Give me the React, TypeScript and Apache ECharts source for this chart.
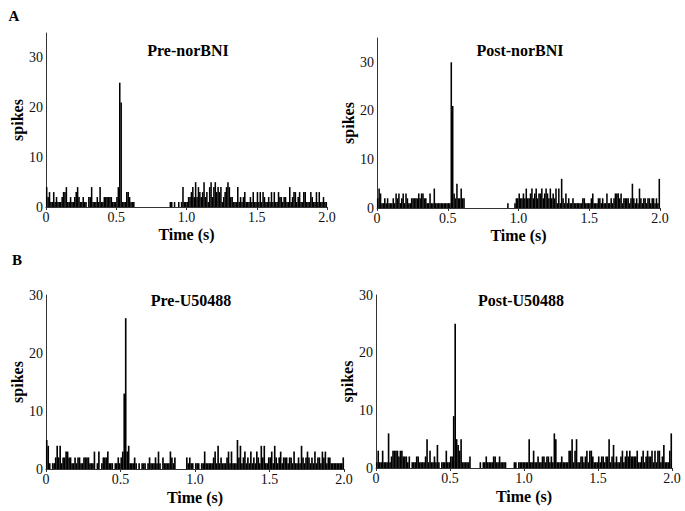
import React, { useEffect, useRef } from 'react';
import * as echarts from 'echarts';

// 10 ms bins over 0–2 s
const BIN_WIDTH_S = 0.01;
const binStarts: number[] = Array.from({ length: 200 }, (_, i) => +(i * BIN_WIDTH_S).toFixed(2));

const titles = ['Pre-norBNI', 'Post-norBNI', 'Pre-U50488', 'Post-U50488'];
const panelLetters = ['A', 'B'];
const xTicks = [0, 0.5, 1.0, 1.5, 2.0];

const preNorBNI = [
  4,2,3,1,1,3,1,2,1,1, 1,2,3,3,4,1,1,2,1,1, 2,3,4,2,1,1,2,1,1,0, 2,2,4,1,1,1,2,1,4,1,
  1,2,2,2,2,2,2,1,1,1, 2,4,25,21,1,1,1,3,3,2, 1,1,1,0,0,0,0,0,0,0, 0,0,0,0,0,0,0,0,0,0,
  0,0,0,0,0,0,0,0,1,1, 0,1,0,0,1,0,1,4,1,1, 1,2,2,3,4,2,5,2,4,3, 2,3,5,2,3,1,4,5,2,4,
  5,3,4,3,4,1,2,3,4,5, 4,2,2,1,1,1,4,1,2,1, 2,3,1,1,1,2,1,3,1,1, 3,1,3,1,3,2,1,1,2,1,
  3,1,3,1,1,3,2,2,1,2, 2,1,1,4,1,2,3,3,1,2, 3,1,1,3,3,1,1,1,3,2, 1,1,3,1,3,1,1,2,1,1,
];

const postNorBNI = [
  2,4,3,1,1,2,1,2,1,1, 1,2,1,3,2,3,1,2,3,1, 3,2,1,1,2,2,2,2,2,3, 2,3,3,2,2,1,1,3,1,1,
  4,1,1,1,1,1,1,1,1,1, 1,1,30,21,3,2,5,2,2,4, 2,2,0,0,0,0,0,0,0,0, 0,0,0,0,0,0,0,0,0,0,
  0,0,0,0,0,0,0,0,0,0, 0,0,1,0,0,0,0,1,2,2, 3,2,2,3,2,4,2,2,3,4, 2,3,4,2,3,3,4,2,3,4,
  3,2,4,2,3,2,4,1,4,1, 6,2,1,3,1,2,1,1,2,1, 1,1,1,1,1,2,2,1,1,1, 1,2,3,1,1,1,2,2,1,2,
  1,1,3,1,1,2,1,2,3,3, 3,2,3,1,2,2,2,2,1,2, 5,2,1,2,1,4,2,1,2,2, 1,2,2,1,2,2,1,2,1,6,
];

const preU50488 = [
  5,4,1,0,1,1,2,4,2,4, 1,2,2,3,3,2,2,1,1,2, 1,2,2,1,1,2,2,2,2,1, 1,1,3,0,1,3,0,1,2,2,
  2,3,1,1,1,0,1,1,2,1, 2,3,13,26,3,4,1,1,1,2, 1,0,1,0,1,1,1,0,1,2, 1,1,1,2,1,3,1,0,2,1,
  1,1,1,3,2,1,2,0,0,0, 0,0,0,0,2,1,2,1,1,0, 1,1,1,0,1,1,3,1,1,1, 1,1,2,3,1,4,1,2,1,1,
  1,2,3,1,3,1,1,1,5,2, 4,1,2,3,1,2,1,3,1,2, 1,3,2,1,4,2,4,1,1,2, 2,3,1,4,2,1,2,3,1,2,
  2,2,1,2,2,1,3,1,1,2, 1,4,2,1,2,3,2,1,2,1, 3,1,2,2,1,3,2,3,1,2, 2,1,1,1,1,1,1,1,1,2,
];

const postU50488 = [
  1,3,1,1,3,1,1,1,6,1, 2,3,3,3,3,2,3,3,2,2, 2,1,2,0,1,1,1,2,2,1, 1,1,1,2,5,1,3,1,1,2,
  1,4,1,0,1,1,1,3,1,1, 2,2,9,25,5,4,3,5,1,1, 1,1,1,2,0,0,0,0,0,0, 1,0,1,1,2,1,1,1,1,2,
  2,1,1,2,1,1,1,1,0,0, 0,0,0,1,1,0,1,1,1,1, 1,1,1,5,1,1,3,1,1,2, 1,1,2,2,1,2,2,1,2,1,
  6,5,1,1,1,2,1,1,1,1, 3,3,5,1,3,5,1,1,2,2, 1,2,3,1,3,3,2,1,1,1, 2,1,2,2,1,2,2,5,1,2,
  4,1,2,1,1,2,3,1,2,3, 2,3,2,2,2,2,3,1,1,2, 3,1,2,3,2,2,3,1,3,1, 3,3,1,2,4,1,1,1,3,6,
];

const seriesValues = [preNorBNI, postNorBNI, preU50488, postU50488];
const yMaxes = [35, 35, 30, 30];

const FONT = '"Liberation Serif", "DejaVu Serif", serif';

const grids = [
  { left: 46, top: 33, width: 281, height: 174 },
  { left: 377, top: 38, width: 283, height: 170 },
  { left: 46, top: 295, width: 298, height: 174 },
  { left: 376, top: 295, width: 296, height: 173 },
];

const titlePos = [
  [188, 50],
  [520, 50],
  [191, 300],
  [521, 300],
];

export default function App() {
  const ref = useRef<HTMLDivElement>(null);
  useEffect(() => {
    if (!ref.current) return;
    const chart = echarts.init(ref.current, null, { renderer: 'svg' });
    const xAxis = grids.map((_, i) => ({
      type: 'value',
      gridIndex: i,
      min: 0,
      max: 2,
      interval: 0.5,
      name: 'Time (s)',
      nameLocation: 'middle',
      nameGap: i < 2 ? 19 : 20,
      nameTextStyle: { fontFamily: FONT, fontWeight: 'bold', fontSize: 16, color: '#000' },
      axisLine: { show: true, lineStyle: { color: '#333', width: 1 } },
      axisTick: { show: true, length: 3, lineStyle: { color: '#333' } },
      splitLine: { show: false },
      axisLabel: {
        fontFamily: FONT,
        fontSize: 14,
        color: '#111',
        margin: 3,
        formatter: (v: number) => (xTicks.includes(v) ? (v === 0 ? '0' : v.toFixed(1)) : ''),
      },
    }));
    const yAxis = grids.map((_, i) => ({
      type: 'value',
      gridIndex: i,
      min: 0,
      max: yMaxes[i],
      interval: 10,
      name: 'spikes',
      nameLocation: 'middle',
      nameGap: 20,
      nameRotate: 90,
      nameTextStyle: { fontFamily: FONT, fontWeight: 'bold', fontSize: 16, color: '#000' },
      axisLine: { show: true, lineStyle: { color: '#333', width: 1 } },
      axisTick: { show: false },
      splitLine: { show: false },
      axisLabel: {
        fontFamily: FONT,
        fontSize: 14,
        color: '#111',
        margin: 3,
        formatter: (v: number) => (v % 10 === 0 ? String(v) : ''),
      },
    }));
    const series = seriesValues.map((vals, i) => ({
      type: 'bar',
      xAxisIndex: i,
      yAxisIndex: i,
      data: binStarts.map((t, k) => [+(t + BIN_WIDTH_S / 2).toFixed(3), vals[k]]),
      barWidth: (grids[i].width / 200) * 1.1,
      barGap: '-100%',
      itemStyle: { color: '#000' },
      silent: true,
    }));
    const graphic: any[] = [];
    titles.forEach((t, i) => {
      graphic.push({
        type: 'text',
        x: titlePos[i][0],
        y: titlePos[i][1],
        style: {
          text: t,
          font: `bold 16px ${FONT}`,
          fill: '#000',
          textAlign: 'center',
          textVerticalAlign: 'middle',
        },
      });
    });
    graphic.push({
      type: 'text', x: 14, y: 16,
      style: { text: panelLetters[0], font: `bold 15px ${FONT}`, fill: '#000', textAlign: 'center', textVerticalAlign: 'middle' },
    });
    graphic.push({
      type: 'text', x: 17, y: 260,
      style: { text: panelLetters[1], font: `bold 15px ${FONT}`, fill: '#000', textAlign: 'center', textVerticalAlign: 'middle' },
    });
    chart.setOption({
      animation: false,
      backgroundColor: '#fff',
      grid: grids.map((g) => ({ ...g, containLabel: false })),
      xAxis,
      yAxis,
      series,
      graphic,
    });
    return () => chart.dispose();
  }, []);
  return (
    <div
      ref={ref}
      style={{ position: 'absolute', left: 0, top: 0, width: 685, height: 511, background: '#fff' }}
    />
  );
}
